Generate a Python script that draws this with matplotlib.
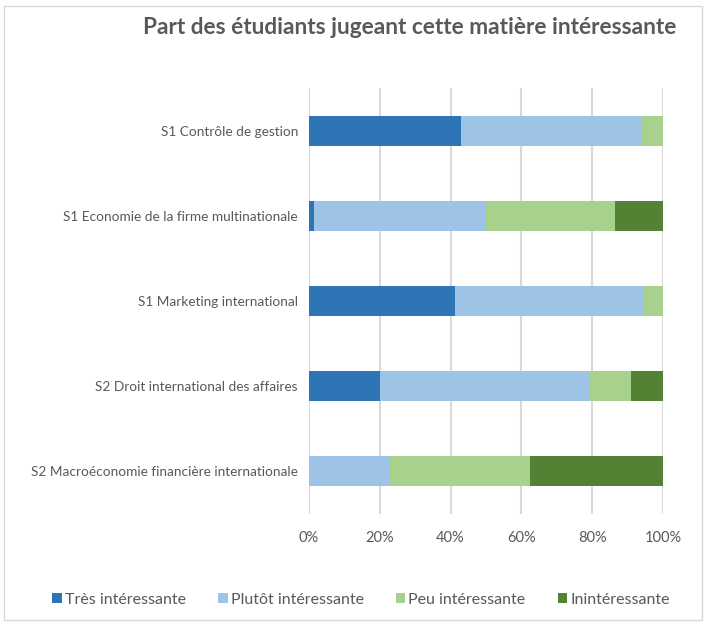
import matplotlib
matplotlib.use('Agg')
import matplotlib.pyplot as plt
import numpy as np
from matplotlib.patches import Rectangle, Patch

# Données (parts en %)
matieres = ['S1 Contrôle de gestion',
            'S1 Economie de la firme multinationale',
            'S1 Marketing international',
            'S2 Droit international des affaires',
            'S2 Macroéconomie financière internationale']
tres = [42.9, 1.5, 41.2, 20.1, 0.0]
plutot = [51.2, 48.3, 53.2, 59.4, 22.7]
peu = [5.9, 36.7, 5.6, 11.4, 39.8]
inint = [0.0, 13.5, 0.0, 9.1, 37.5]

series = ['Très intéressante', 'Plutôt intéressante', 'Peu intéressante', 'Inintéressante']
couleurs = ['#2E75B6', '#9DC3E6', '#A9D18E', '#548235']

plt.rcParams['font.family'] = ['Lato', 'DejaVu Sans']
gris = '#595959'

fig = plt.figure(figsize=(7.07, 6.24), dpi=100)
ax = fig.add_axes([309/707, 1 - 514/624, 354/707, 426/624])

y = np.arange(len(matieres))
gauche = np.zeros(len(matieres))
for nom, vals, c in zip(series, [tres, plutot, peu, inint], couleurs):
    vals = np.array(vals)
    ax.barh(y, vals, left=gauche, height=0.35, color=c, label=nom, zorder=3)
    gauche += vals

ax.set_ylim(len(matieres) - 0.5, -0.5)
ax.set_xlim(0, 100)
ax.set_yticks(y)
ax.set_yticklabels(matieres, fontsize=9.8, color=gris)
ax.set_xticks(np.arange(0, 101, 20))
ax.set_xticklabels([f'{v}%' for v in range(0, 101, 20)], fontsize=10.5, color=gris)
ax.tick_params(length=0, pad=8)
ax.tick_params(axis='x', pad=12)
ax.grid(axis='x', color='#D9D9D9', linewidth=1.5, zorder=0)
for s in ax.spines.values():
    s.set_visible(False)

fig.text(410/707, 1 - 28/624, 'Part des étudiants jugeant cette matière intéressante',
         ha='center', va='center', fontsize=16.3, fontweight='bold', color=gris)

poignees = [Patch(facecolor=c, label=n) for n, c in zip(series, couleurs)]
leg = fig.legend(handles=poignees, loc='center', bbox_to_anchor=(361/707, 1 - 600/624),
                 ncol=4, frameon=False, fontsize=11.5, handlelength=0.6, handleheight=0.6,
                 handletextpad=0.2, columnspacing=2.0)
for t in leg.get_texts():
    t.set_color(gris)

fig.patches.append(Rectangle((4/707, 4/624), 698/707, 614/624, transform=fig.transFigure,
                             fill=False, edgecolor='#D9D9D9', linewidth=1))

fig.savefig('out.png', dpi=100, facecolor='white')
